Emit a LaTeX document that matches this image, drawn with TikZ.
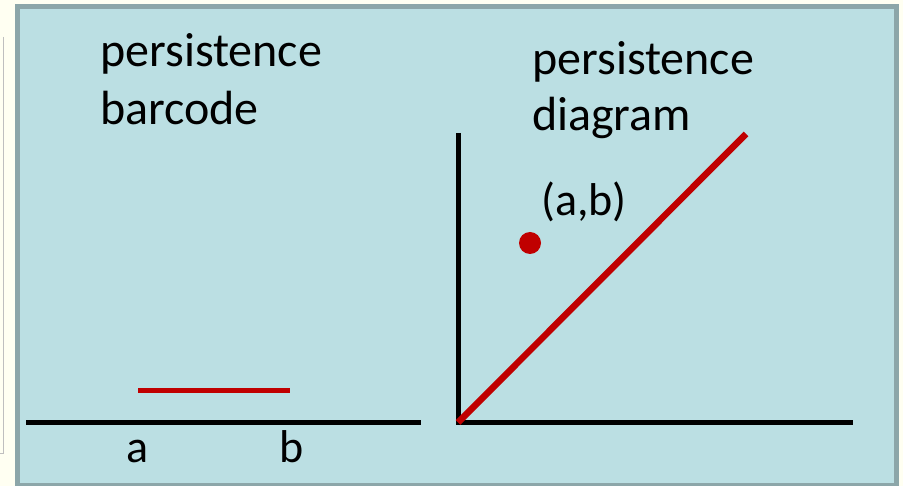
\documentclass[tikz,border=0pt]{standalone}
\usepackage{fontspec}
\setmainfont{Carlito}
\definecolor{cream}{HTML}{FFFFF2}
\definecolor{panel}{HTML}{BBDFE3}
\definecolor{panelborder}{HTML}{8CA6A9}
\definecolor{barred}{HTML}{C00000}
\begin{document}
\begin{tikzpicture}[x=1pt,y=-1pt,
  axis/.style={line width=5pt,black},
  redline/.style={line width=5.5pt,barred},
  title/.style={anchor=base west,inner sep=0pt,font=\fontsize{48}{58}\selectfont},
  lab/.style={anchor=base,inner sep=0pt,font=\fontsize{46}{54}\selectfont}]
\useasboundingbox (0,0) rectangle (903,486);
\fill[cream] (0,0) rectangle (903,486);
\draw[black!25,line width=0.8pt] (3,37) -- (3,453) -- (0,453);
\draw[panelborder,fill=panel,line width=5pt] (17.5,6.5) rectangle (896.5,485.5);
% left: barcode
\node[title] (t1) at (100,67) {persistence};
\node[title] (t2) at (100,125) {barcode};
\coordinate (la) at (26,422.5);
\coordinate (lb) at (421,422.5);
\draw[axis] (la) -- (lb);
\coordinate (ba) at (138,390.5);
\coordinate (bb) at (290,390.5);
\draw[redline] (ba) -- (bb);
\node[lab] (a) at (138,462) {a};
\node[lab] (b) at (292,462) {b};
% right: diagram
\node[title] (t3) at (532,75) {persistence};
\node[title] (t4) at (532,131) {diagram};
\coordinate (o) at (458,422.5);
\coordinate (ytop) at (458,133);
\coordinate (xend) at (853,422.5);
\draw[axis] (ytop) -- (o) -- (xend);
\coordinate (dtop) at (746,134);
\draw[barred,line width=6.5pt] (o) -- (dtop);
\node[fill=barred,circle,minimum size=22pt,inner sep=0pt] (pt) at (530,243) {};
\node[lab] (ab) at (584,216) {(a,b)};
\end{tikzpicture}
\end{document}
